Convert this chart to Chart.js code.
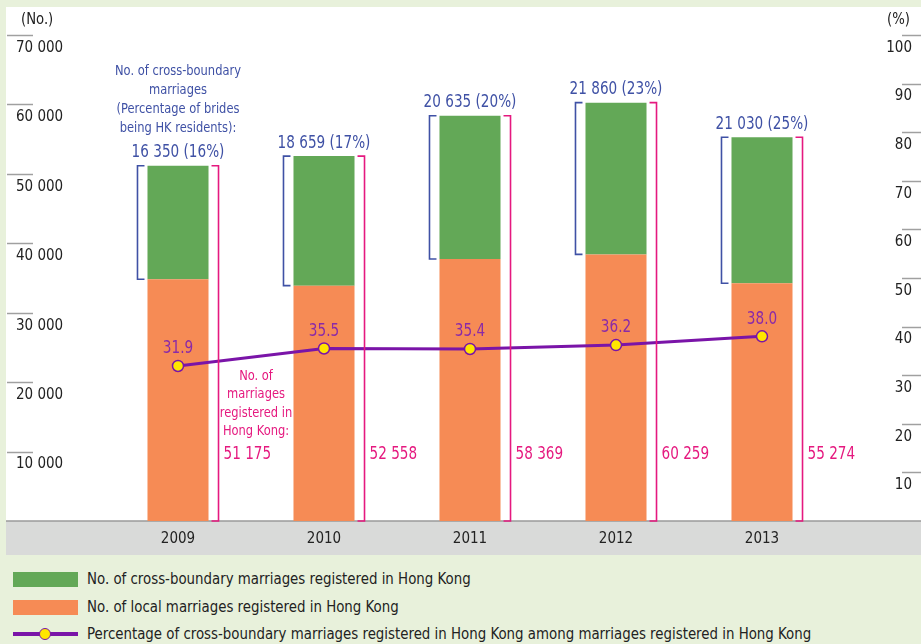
<!DOCTYPE html>
<html>
<head>
<meta charset="utf-8">
<script src="https://cdn.jsdelivr.net/npm/chart.js@4"></script>
<style>
  html, body { margin: 0; padding: 0; background: #e8f1db; overflow: hidden; }
  body { width: 921px; height: 644px; position: relative; font-family: "Liberation Sans Narrow", "DejaVu Sans Condensed", sans-serif; }
  #chart { position: absolute; left: 0; top: 0; }
  .leg { position: absolute; left: 13px; height: 20px; font-size: 16.5px; color: #222; line-height: 20px; }
  .leg .sw { position: absolute; left: 0; width: 65px; }
  .leg span { position: absolute; left: 74px; top: 0; white-space: nowrap; transform: scaleX(0.9); transform-origin: 0 50%; }
</style>
</head>
<body>
<canvas id="chart" width="921" height="560"></canvas>

<div class="leg" style="top:569px"><div class="sw" style="top:3px;height:15px;background:#63a857"></div><span>No. of cross-boundary marriages registered in Hong Kong</span></div>
<div class="leg" style="top:597px"><div class="sw" style="top:3px;height:15px;background:#f68b55"></div><span>No. of local marriages registered in Hong Kong</span></div>
<div class="leg" style="top:624px"><div class="sw" style="top:8px;height:4px;background:#7a14a8"></div><div style="position:absolute;left:26px;top:4px;width:10px;height:10px;border-radius:50%;background:#ffe600;border:1.5px solid #7a14a8"></div><span>Percentage of cross-boundary marriages registered in Hong Kong among marriages registered in Hong Kong</span></div>

<script>
var years = ['2009', '2010', '2011', '2012', '2013'];
var localMarriages = [34825, 33899, 37734, 38399, 34244];
var crossBoundary = [16350, 18659, 20635, 21860, 21030];
var totalMarriages = [51175, 52558, 58369, 60259, 55274];
var bridesHKPct = [16, 17, 20, 23, 25];
var crossPct = [31.9, 35.5, 35.4, 36.2, 38.0];

var leftTicks = [10000, 20000, 30000, 40000, 50000, 60000, 70000];
var rightTicks = [10, 20, 30, 40, 50, 60, 70, 80, 90, 100];

const FONT = '"Liberation Sans Narrow", "DejaVu Sans Condensed", sans-serif';
const BLUE = '#3f51a5';
const MAGENTA = '#e5197f';
const PURPLE = '#8a2aa8';

function fmt(v) {
    return String(v).replace(/\B(?=(\d{3})+(?!\d))/g, ' ');
}

// narrow text: draw taller glyphs squeezed sideways, like the condensed face in the original
function squeeze(c, s, x, y, sx) {
    c.save();
    c.translate(x, y);
    c.scale(sx, 1);
    c.fillText(s, 0, 0);
    c.restore();
}

// background panel, grey x band, short tick marks, unit labels
const backdrop = {
    id: 'backdrop',
    beforeDraw(chart) {
        const c = chart.ctx;
        const W = chart.width;
        const bottom = chart.chartArea.bottom;
        c.save();
        c.fillStyle = '#e8f1db';
        c.fillRect(0, 0, W, chart.height);
        c.fillStyle = '#ffffff';
        c.fillRect(6, 7, W - 6, bottom - 7);
        c.fillStyle = '#d9dad9';
        c.fillRect(6, bottom, W - 6, 34);
        c.strokeStyle = '#9a9a9a';
        c.lineWidth = 1.5;
        c.beginPath();
        c.moveTo(6, bottom);
        c.lineTo(W, bottom);
        c.stroke();

        c.strokeStyle = '#a0a0a0';
        c.lineWidth = 1.5;
        leftTicks.forEach(function (t) {
            const y = Math.round(chart.scales.y.getPixelForValue(t)) + 0.5;
            c.beginPath(); c.moveTo(7, y); c.lineTo(33, y); c.stroke();
        });
        rightTicks.forEach(function (t) {
            const y = Math.round(chart.scales.yR.getPixelForValue(t)) + 0.5;
            c.beginPath(); c.moveTo(902, y); c.lineTo(W, y); c.stroke();
        });

        c.fillStyle = '#222';
        c.font = '16px ' + FONT;
        c.textBaseline = 'middle';
        c.textAlign = 'left';
        squeeze(c, '(No.)', 21, 20, 0.92);
        c.textAlign = 'right';
        squeeze(c, '(%)', 910, 20, 0.92);
        c.restore();
    }
};

// brackets, value labels and notes
const notes = {
    id: 'notes',
    afterDatasetsDraw(chart) {
        const c = chart.ctx;
        const localMeta = chart.getDatasetMeta(0);
        const crossMeta = chart.getDatasetMeta(1);
        const lineMeta = chart.getDatasetMeta(2);
        c.save();
        c.lineWidth = 1.6;
        years.forEach(function (yr, i) {
            const cb = crossMeta.data[i];
            const lb = localMeta.data[i];
            const left = cb.x - cb.width / 2;
            const right = cb.x + cb.width / 2;

            // blue bracket round the cross-boundary part
            const bx = left - 10;
            c.strokeStyle = BLUE;
            c.beginPath();
            c.moveTo(bx + 7, cb.y); c.lineTo(bx, cb.y); c.lineTo(bx, cb.base); c.lineTo(bx + 7, cb.base);
            c.stroke();

            // magenta bracket round the whole bar
            const mx = right + 10;
            c.strokeStyle = MAGENTA;
            c.beginPath();
            c.moveTo(mx - 7, cb.y); c.lineTo(mx, cb.y); c.lineTo(mx, lb.base); c.lineTo(mx - 7, lb.base);
            c.stroke();

            c.font = '17px ' + FONT;
            c.textBaseline = 'middle';
            c.textAlign = 'center';
            c.fillStyle = BLUE;
            squeeze(c, fmt(crossBoundary[i]) + ' (' + bridesHKPct[i] + '%)', cb.x, cb.y - 13, 0.89);

            c.textAlign = 'left';
            c.fillStyle = MAGENTA;
            squeeze(c, fmt(totalMarriages[i]), mx + 5, 455, 0.89);

            const p = lineMeta.data[i];
            c.textAlign = 'center';
            c.fillStyle = PURPLE;
            squeeze(c, crossPct[i].toFixed(1), p.x, p.y - 17, 0.89);
        });

        const first = crossMeta.data[0];
        c.font = '14.5px ' + FONT;
        c.textAlign = 'center';
        c.textBaseline = 'middle';
        c.fillStyle = BLUE;
        ['No. of cross-boundary', 'marriages', '(Percentage of brides', 'being HK residents):']
            .forEach(function (s, k) { squeeze(c, s, first.x, 71 + k * 19, 0.88); });

        c.fillStyle = MAGENTA;
        ['No. of', 'marriages', 'registered in', 'Hong Kong:']
            .forEach(function (s, k) { squeeze(c, s, 256, 376 + k * 18.5, 0.88); });
        c.restore();
    }
};

new Chart(document.getElementById('chart'), {
    type: 'bar',
    data: {
        labels: years,
        datasets: [{
            label: 'No. of local marriages registered in Hong Kong',
            data: localMarriages,
            backgroundColor: '#f68b55',
            stack: 's',
            yAxisID: 'y',
            order: 1
        }, {
            label: 'No. of cross-boundary marriages registered in Hong Kong',
            data: crossBoundary,
            backgroundColor: '#63a857',
            stack: 's',
            yAxisID: 'y',
            order: 1
        }, {
            type: 'line',
            label: 'Percentage of cross-boundary marriages registered in Hong Kong among marriages registered in Hong Kong',
            data: crossPct,
            yAxisID: 'yR',
            borderColor: '#7a14a8',
            borderWidth: 3,
            pointRadius: 5.5,
            pointBackgroundColor: '#ffe600',
            pointBorderColor: '#7a14a8',
            pointBorderWidth: 1.5,
            tension: 0,
            order: 0
        }]
    },
    options: {
        responsive: false,
        animation: false,
        devicePixelRatio: 1,
        barPercentage: 0.418,
        categoryPercentage: 1,
        layout: { padding: { left: 16, right: 9, top: 35, bottom: 5 } },
        plugins: {
            legend: { display: false },
            tooltip: { enabled: false }
        },
        scales: {
            x: {
                stacked: true,
                grid: { display: false, drawTicks: false },
                border: { display: false },
                ticks: { color: '#222', font: { family: FONT, size: 15 }, padding: 9 },
                afterFit: function (s) { s.height = 34; }
            },
            y: {
                stacked: true,
                position: 'left',
                min: 0,
                max: 70000,
                grid: { display: false, drawTicks: false },
                border: { display: false },
                ticks: {
                    stepSize: 10000,
                    crossAlign: 'far',
                    labelOffset: 13,
                    color: '#222',
                    font: { family: FONT, size: 15 },
                    callback: function (v) { return v === 0 ? '' : fmt(v); }
                },
                afterFit: function (s) { s.width = 89; }
            },
            yR: {
                position: 'right',
                min: 0,
                max: 100,
                grid: { display: false, drawTicks: false },
                border: { display: false },
                ticks: {
                    stepSize: 10,
                    crossAlign: 'far',
                    labelOffset: 13,
                    color: '#222',
                    font: { family: FONT, size: 15 },
                    callback: function (v) { return v === 0 ? '' : v; }
                },
                afterFit: function (s) { s.width = 77; }
            }
        }
    },
    plugins: [backdrop, notes]
});
</script>
</body>
</html>
